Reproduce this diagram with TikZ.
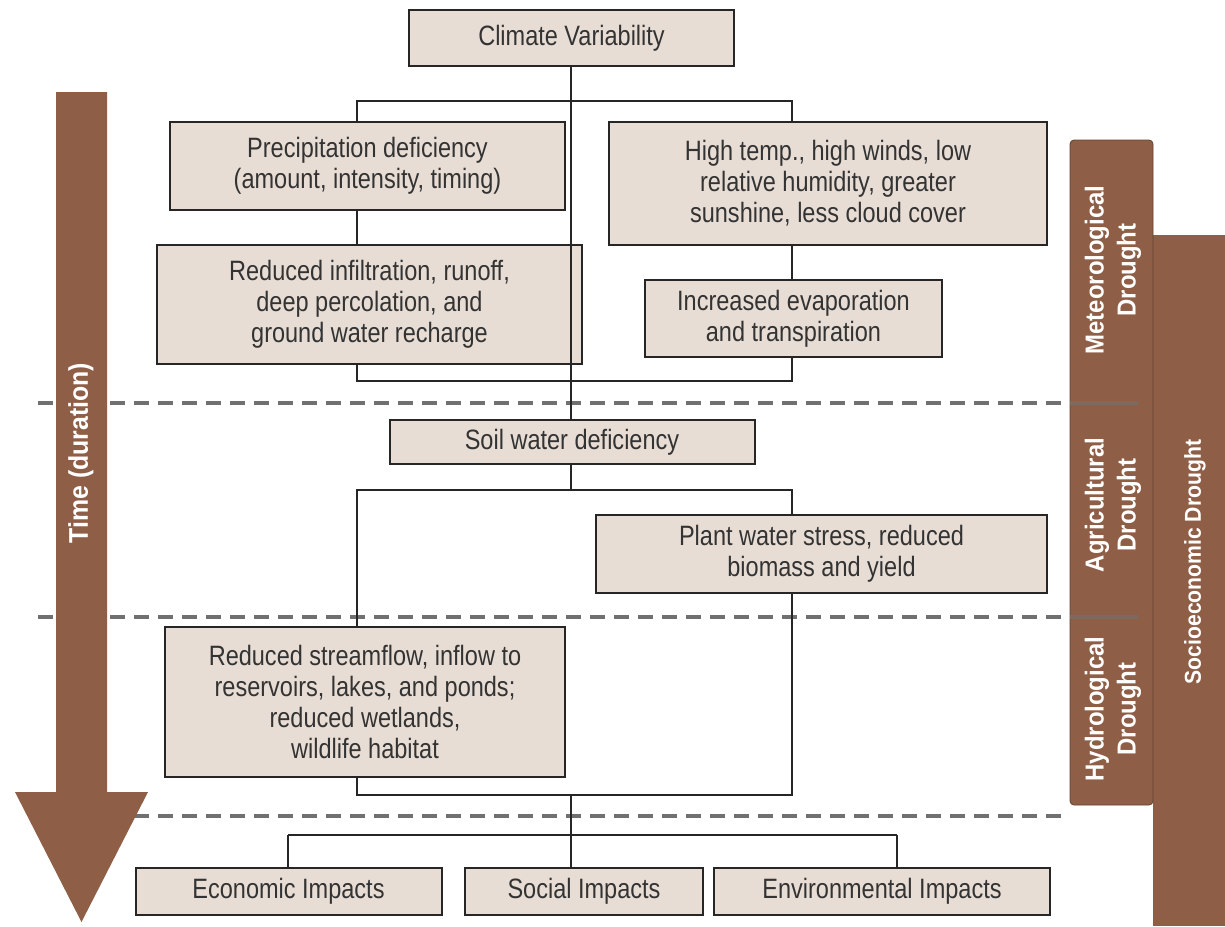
\documentclass[tikz,border=0pt]{standalone}
\usepackage{fontspec}
\setmainfont{Liberation Sans}[FakeStretch=0.84]
\newfontfamily\barfont{Liberation Sans}[FakeStretch=0.92]
\usepackage{tikz}
\usetikzlibrary{positioning}
\definecolor{drybrown}{RGB}{142,94,70}
\definecolor{boxfill}{RGB}{232,221,213}
\definecolor{dashgray}{RGB}{112,112,112}

\begin{document}
\begin{tikzpicture}[
        x=0.5pt, y=0.5pt,
        box/.style = {rectangle, draw=black!85, fill=#1, line width=1pt,
                     align=center, inner sep=2pt, text=black!80,
                     font=\fontsize{14}{15.5}\selectfont},
        box/.default = boxfill,
       link/.style = {line width=1pt, draw=black!85},
      stage/.style = {dashgray, line width=1.6pt, dash pattern=on 7.5pt off 4.5pt},
        bar/.style = {text=white, font=\barfont\bfseries\fontsize{13}{16}\selectfont,
                     align=center, rotate=90}
                        ]
\fill[white] (0,0) rectangle (1225,-926);
\useasboundingbox (0,0) rectangle (1225,-926);
% stage separators
\foreach \y in {-403,-617,-816}
  \draw[stage] (38,\y) -- (1070,\y);
% time arrow
\fill[drybrown] (56,-92) -- (107,-92) -- (107,-792) -- (148,-792)
   -- (81.5,-922) -- (15,-792) -- (56,-792) -- cycle;
\node (time) [bar, font=\barfont\bfseries\fontsize{13.5}{16}\selectfont] at (81,-453) {Time (duration)};
% drought bars
\fill[drybrown] (1153,-235) rectangle (1225,-926);
\filldraw[fill=drybrown, draw=drybrown!70!black, line width=0.4pt, rounded corners=2pt]
   (1070,-140) rectangle (1153,-805);
\foreach \y in {-403,-617}
  \draw[dashgray!60!drybrown, line width=1.6pt] (1070,\y) -- (1138,\y);
\node (meteo) [bar] at (1113,-270) {Meteorological\\Drought};
\node (agri) [bar] at (1113,-505) {Agricultural\\Drought};
\node (hydro) [bar] at (1113,-709) {Hydrological\\Drought};
\node (socio) [bar, font=\barfont\bfseries\fontsize{11.5}{14}\selectfont] at (1195,-562) {Socioeconomic Drought};
% boxes
\node (climate) [box, minimum width=162.5pt, minimum height=28pt] at (571.5,-38) {Climate Variability};
\node (precip) [box, minimum width=197.5pt, minimum height=44pt] at (367.5,-166)
   {Precipitation deficiency\\(amount, intensity, timing)};
\node (htemp) [box, minimum width=219pt, minimum height=61.5pt] at (828,-183.5)
   {High temp., high winds, low\\relative humidity, greater\\sunshine, less cloud cover};
\node (infil) [box, minimum width=212.5pt, minimum height=59.5pt] at (369.5,-304.5)
   {Reduced infiltration, runoff,\\deep percolation, and\\ground water recharge};
\node (evap) [box, minimum width=148.5pt, minimum height=38.5pt] at (793.5,-318.5)
   {Increased evaporation\\and transpiration};
\node (soil) [box, minimum width=182.5pt, minimum height=22pt] at (572,-442) {Soil water deficiency};
\node (plant) [box, minimum width=225.5pt, minimum height=39pt] at (821.5,-554)
   {Plant water stress, reduced\\biomass and yield};
\node (stream) [box, minimum width=200pt, minimum height=75pt] at (365,-702)
   {Reduced streamflow, inflow to\\reservoirs, lakes, and ponds;\\reduced wetlands,\\wildlife habitat};
\node (econ) [box, minimum width=153pt, minimum height=23.5pt] at (288.5,-891.5) {Economic Impacts};
\node (social) [box, minimum width=119pt, minimum height=23.5pt] at (584,-891.5) {Social Impacts};
\node (env) [box, minimum width=168pt, minimum height=23.5pt] at (882,-891.5) {Environmental Impacts};
% branch points
\coordinate (lbr) at (357,-101);
\coordinate (rbr) at (792,-101);
\coordinate (j1) at (571,-381);
\coordinate (j2) at (571,-490);
\coordinate (j3) at (571,-795);
\coordinate (j4) at (571,-835);
% connectors
\draw[link] (climate.south -| j1) -- (soil.north -| j1);
\draw[link] (lbr |- precip.north) -- (lbr) -- (rbr) -- (rbr |- htemp.north);
\draw[link] (lbr |- precip.south) -- (lbr |- infil.north);
\draw[link] (rbr |- htemp.south) -- (rbr |- evap.north);
\draw[link, line width=1.4pt] (lbr |- infil.south) -- (lbr |- j1) -- (rbr |- j1) -- (rbr |- evap.south);
\draw[link] (soil.south -| j2) -- (j2);
\draw[link] (lbr |- stream.north) -- (lbr |- j2) -- (rbr |- j2) -- (rbr |- plant.north);
\draw[link] (rbr |- plant.south) -- (rbr |- j3) -- (lbr |- j3) -- (lbr |- stream.south);
\draw[link] (j3) -- (social.north -| j3);
\draw[link, line width=1.4pt] (288,-835) -- (897,-835);
\draw[link] (288,-835) -- (econ.north -| 288,0);
\draw[link] (897,-835) -- (env.north -| 897,0);
\end{tikzpicture}
\end{document}
